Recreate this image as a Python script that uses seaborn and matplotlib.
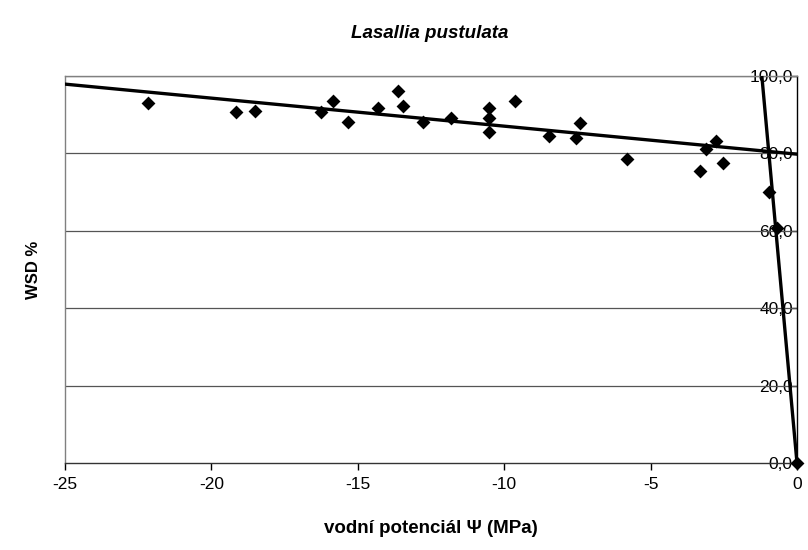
import matplotlib
matplotlib.use("Agg")
import matplotlib.pyplot as plt
import seaborn as sns
import numpy as np
import pandas as pd
from matplotlib.ticker import FuncFormatter

# Data
psi = [-22.17, -19.16, -18.51, -16.26, -15.85, -15.33, -14.31, -13.63, -13.46,
       -12.77, -11.82, -10.52, -10.52, -10.52, -9.63, -8.47, -7.55, -7.41,
       -5.81, -3.31, -3.11, -2.77, -2.53, -0.95, -0.67, 0.0]
wsd = [93.1, 90.7, 91.0, 90.7, 93.5, 88.1, 91.7, 96.1, 92.2,
       88.1, 89.1, 91.7, 89.1, 85.5, 93.5, 84.5, 84.0, 87.9,
       78.6, 75.5, 81.1, 83.2, 77.5, 70.1, 60.6, 0.0]

# Trendline 1 (flat): y = a1 + b1*x ; trendline 2 (steep, through origin): y = b2*x
trend1_a = 79.8
trend1_b = -0.724
trend2_b = -83.3

x_ticks = [-25, -20, -15, -10, -5, 0]
y_ticks = [0, 20, 40, 60, 80, 100]
title = "Lasallia pustulata"
xlabel = "vodní potenciál Ψ (MPa)"
ylabel = "WSD %"

sns.set_theme(style="white")
plt.rcParams['font.family'] = ['Liberation Sans', 'DejaVu Sans']
plt.rcParams['axes.unicode_minus'] = False
plt.rcParams['text.color'] = 'black'
plt.rcParams['axes.labelcolor'] = 'black'

fig = plt.figure(figsize=(8.08, 5.5), dpi=100)
ax = fig.add_axes([65/808, 1-463/550, (797-65)/808, (463-76)/550])

# gridlines
for yt in y_ticks[1:]:
    ax.axhline(yt, color='#555555', lw=0.9, zorder=1)

df = pd.DataFrame({"psi": psi, "wsd": wsd})

# trendlines
x1 = np.array([x_ticks[0], x_ticks[-1]], dtype=float)
t1 = pd.DataFrame({"x": x1, "y": trend1_a + trend1_b * x1})
sns.lineplot(data=t1, x="x", y="y", ax=ax, color='black', lw=2.4, sort=False, zorder=3)
x2 = np.array([y_ticks[-1] / trend2_b, 0.0])
t2 = pd.DataFrame({"x": x2, "y": trend2_b * x2})
sns.lineplot(data=t2, x="x", y="y", ax=ax, color='black', lw=2.4, sort=False, zorder=3)

sns.scatterplot(data=df, x="psi", y="wsd", ax=ax, marker='D', s=50, color='black',
                edgecolor='black', linewidth=0, zorder=4, clip_on=False)

ax.set_xlim(-25, 0)
ax.set_ylim(0, 100)
ax.set_xticks(x_ticks)
ax.set_yticks(y_ticks)
ax.yaxis.set_major_formatter(FuncFormatter(lambda v, p: f"{v:.1f}".replace('.', ',')))

# spines: y-axis at x=0 (right edge)
ax.spines['left'].set_position(('data', 0))
ax.spines['left'].set_color('black')
ax.spines['left'].set_linewidth(1.0)
ax.spines['right'].set_position(('axes', 0))
ax.spines['right'].set_color('#808080')
ax.spines['right'].set_linewidth(1.0)
ax.spines['top'].set_color('#808080')
ax.spines['top'].set_linewidth(1.0)
ax.spines['bottom'].set_color('#333333')
ax.spines['bottom'].set_linewidth(1.0)
ax.yaxis.set_ticks_position('left')
ax.xaxis.set_ticks_position('bottom')
ax.tick_params(axis='both', direction='out', length=5, width=1, color='black',
               labelsize=12.5, labelcolor='black', pad=5)
ax.tick_params(axis='y', pad=-2)
for lbl in ax.get_yticklabels():
    lbl.set_zorder(2)

ax.set_xlabel(xlabel, fontsize=13.5, fontweight='bold', labelpad=20, color='black')
ax.set_ylabel("")
fig.text(33/808, 1-270/550, ylabel, rotation=90, fontsize=12, fontweight='bold',
         ha='center', va='center', color='black')
fig.text(430/808, 1-33/550, title, fontsize=13.5, fontweight='bold', fontstyle='italic',
         ha='center', va='center', color='black')

fig.savefig("out.png", dpi=100, facecolor='white')
